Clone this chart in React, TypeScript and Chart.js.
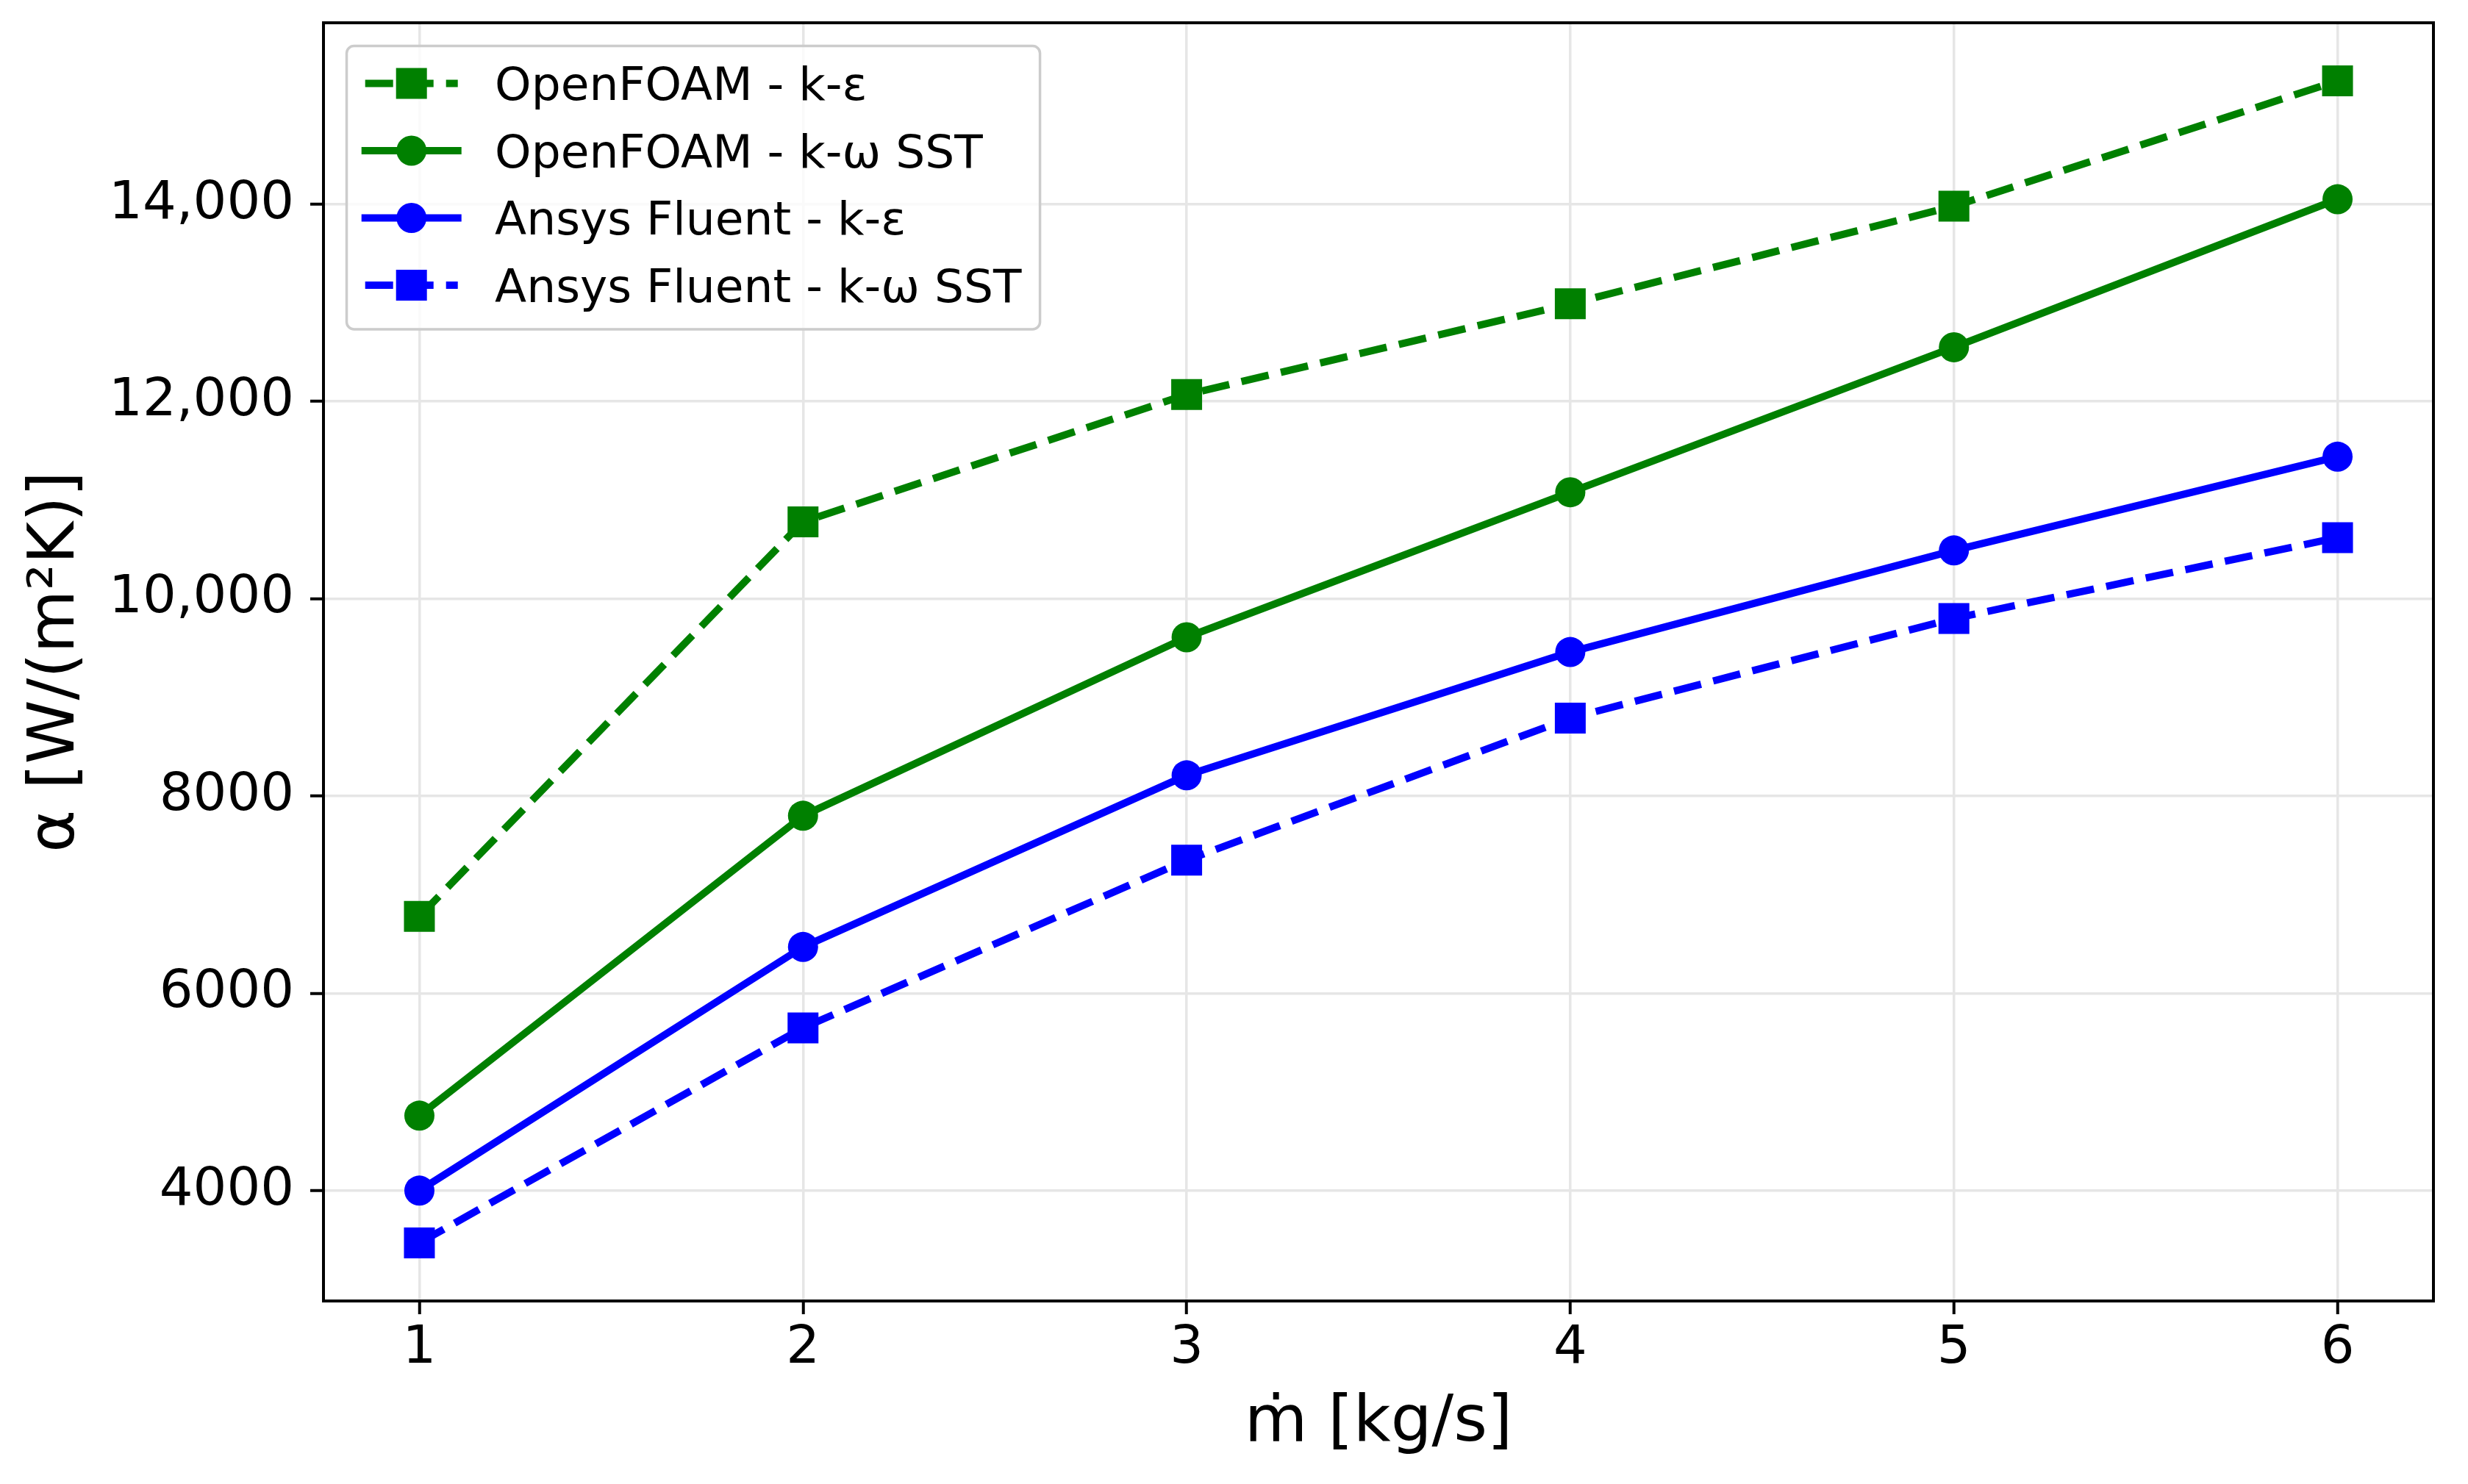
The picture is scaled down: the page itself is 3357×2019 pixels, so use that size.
import { useEffect, useRef } from "react";
import { Chart, registerables } from "chart.js";

Chart.register(...registerables);

// Values
const massFlow = [1, 2, 3, 4, 5, 6];
const openfoamKEps = [6780, 10780, 12070, 12990, 13980, 15250];
const openfoamKOmegaSst = [4760, 7800, 9610, 11080, 12550, 14050];
const fluentKEps = [4000, 6470, 8210, 9460, 10490, 11440];
const fluentKOmegaSst = [3470, 5650, 7350, 8790, 9800, 10620];

const seriesLabels = [
  "OpenFOAM - k-ε",
  "OpenFOAM - k-ω SST",
  "Ansys Fluent - k-ε",
  "Ansys Fluent - k-ω SST",
];

const xTicks = [1, 2, 3, 4, 5, 6];
const yTicks = [4000, 6000, 8000, 10000, 12000, 14000];

const xTitle = "ṁ [kg/s]";
const yTitle = "α [W/(m²K)]";

const WIDTH = 3357;
const HEIGHT = 2019;
const FONT = '"DejaVu Sans", sans-serif';
const GREEN = "#008000";
const BLUE = "#0000ff";

// matplotlib-like 5% margins around the data
const allY = [...openfoamKEps, ...openfoamKOmegaSst, ...fluentKEps, ...fluentKOmegaSst];
const yLo = Math.min(...allY);
const yHi = Math.max(...allY);
const yMargin = (yHi - yLo) * 0.05;
const xMargin = (massFlow[massFlow.length - 1] - massFlow[0]) * 0.05;

const toPoints = (vals: number[]) => massFlow.map((x, i) => ({ x, y: vals[i] }));

const makeDataset = (label: string, vals: number[], color: string, dashed: boolean, square: boolean) => ({
  label,
  data: toPoints(vals),
  borderColor: color,
  backgroundColor: color,
  borderWidth: 10,
  borderDash: dashed ? [38, 17] : [],
  borderCapStyle: dashed ? "butt" : "square",
  borderJoinStyle: "round",
  pointStyle: square ? "rect" : "circle",
  pointRadius: square ? 29.7 : 20.5,
  pointBackgroundColor: color,
  pointBorderColor: color,
  pointBorderWidth: 0,
  tension: 0,
  fill: false,
});

// Draws the top/right spines too, like a matplotlib axes box
const framePlugin = {
  id: "frame",
  afterDatasetsDraw(chart: Chart) {
    const { ctx, chartArea: ca } = chart;
    ctx.save();
    ctx.strokeStyle = "#000";
    ctx.lineWidth = 4;
    ctx.strokeRect(ca.left, ca.top, ca.right - ca.left, ca.bottom - ca.top);
    ctx.restore();
  },
};

// matplotlib style legend (line + marker handle) in the upper left corner
const legendPlugin = {
  id: "mplLegend",
  afterDraw(chart: Chart) {
    const { ctx, chartArea: ca } = chart;
    const fs = 63;
    ctx.save();
    ctx.font = `${fs}px ${FONT}`;
    const datasets = chart.data.datasets as any[];
    const textW = Math.max(...datasets.map((d) => ctx.measureText(d.label).width));
    const pad = 0.4 * fs;
    const handleLen = 2 * fs;
    const textPad = 0.8 * fs;
    const bx = ca.left + 0.5 * fs;
    const by = ca.top + 0.5 * fs;
    const bw = pad + handleLen + textPad + textW + pad;
    const rowStart = 51;
    const rowGap = 91.5;
    const bh = rowStart + (datasets.length - 1) * rowGap + 60;

    ctx.beginPath();
    ctx.roundRect(bx, by, bw, bh, 10);
    ctx.fillStyle = "rgba(255,255,255,0.8)";
    ctx.fill();
    ctx.strokeStyle = "#cccccc";
    ctx.lineWidth = 3.5;
    ctx.stroke();

    datasets.forEach((d, i) => {
      const cy = by + rowStart + i * rowGap;
      const x0 = bx + pad;
      const x1 = x0 + handleLen;
      ctx.strokeStyle = d.borderColor;
      ctx.lineWidth = d.borderWidth;
      ctx.lineCap = d.borderCapStyle;
      ctx.setLineDash(d.borderDash);
      ctx.beginPath();
      ctx.moveTo(x0, cy);
      ctx.lineTo(x1, cy);
      ctx.stroke();
      ctx.setLineDash([]);

      const mx = (x0 + x1) / 2;
      ctx.fillStyle = d.pointBackgroundColor;
      ctx.beginPath();
      if (d.pointStyle === "rect") {
        const half = d.pointRadius * Math.SQRT1_2;
        ctx.rect(mx - half, cy - half, half * 2, half * 2);
      } else {
        ctx.arc(mx, cy, d.pointRadius, 0, Math.PI * 2);
      }
      ctx.fill();

      ctx.fillStyle = "#000";
      ctx.textAlign = "left";
      ctx.textBaseline = "alphabetic";
      ctx.fillText(d.label, x1 + textPad, cy + 0.365 * fs);
    });
    ctx.restore();
  },
};

const tickFont = { family: FONT, size: 72 };
const titleFont = { family: FONT, size: 88 };
const grid = {
  color: "#e6e6e6",
  lineWidth: 3.5,
  drawTicks: true,
  tickLength: 18,
  tickColor: "#000",
  tickWidth: 4,
};

export default function App() {
  const canvasRef = useRef<HTMLCanvasElement>(null);

  useEffect(() => {
    document.body.style.margin = "0";
    document.body.style.overflow = "hidden";
    if (!canvasRef.current) return;

    const chart = new Chart(canvasRef.current, {
      type: "line",
      data: {
        datasets: [
          makeDataset(seriesLabels[0], openfoamKEps, GREEN, true, true),
          makeDataset(seriesLabels[1], openfoamKOmegaSst, GREEN, false, false),
          makeDataset(seriesLabels[2], fluentKEps, BLUE, false, false),
          makeDataset(seriesLabels[3], fluentKOmegaSst, BLUE, true, true),
        ] as any,
      },
      options: {
        animation: false,
        responsive: false,
        devicePixelRatio: 1,
        layout: { padding: { top: 31, right: 47, left: 0, bottom: 0 } },
        plugins: {
          legend: { display: false },
          tooltip: { enabled: false },
        },
        scales: {
          x: {
            type: "linear",
            bounds: "data",
            min: massFlow[0] - xMargin,
            max: massFlow[massFlow.length - 1] + xMargin,
            afterBuildTicks: (s: any) => {
              s.ticks = xTicks.map((value) => ({ value }));
            },
            afterFit: (s: any) => {
              s.height = 249;
              s.paddingLeft = 0;
              s.paddingRight = 0;
            },
            grid,
            border: { display: false },
            ticks: { font: tickFont, color: "#000", padding: 4, maxRotation: 0 },
            title: {
              display: true,
              text: xTitle,
              font: titleFont,
              color: "#000",
              padding: { top: 0, bottom: 29 },
            },
          },
          y: {
            type: "linear",
            bounds: "data",
            min: yLo - yMargin,
            max: yHi + yMargin,
            afterBuildTicks: (s: any) => {
              s.ticks = yTicks.map((value) => ({ value }));
            },
            afterFit: (s: any) => {
              s.width = 440;
              s.paddingTop = 0;
              s.paddingBottom = 0;
            },
            grid,
            border: { display: false },
            ticks: {
              font: tickFont,
              color: "#000",
              padding: 22,
              callback: (v: any) => (v >= 10000 ? Number(v).toLocaleString("en-US") : String(v)),
            },
            title: {
              display: true,
              text: yTitle,
              font: titleFont,
              color: "#000",
              padding: { top: 24, bottom: 0 },
            },
          },
        },
      } as any,
      plugins: [framePlugin, legendPlugin],
    });

    return () => chart.destroy();
  }, []);

  return (
    <div style={{ width: WIDTH, height: HEIGHT, background: "#fff" }}>
      <canvas ref={canvasRef} width={WIDTH} height={HEIGHT} style={{ display: "block" }} />
    </div>
  );
}
